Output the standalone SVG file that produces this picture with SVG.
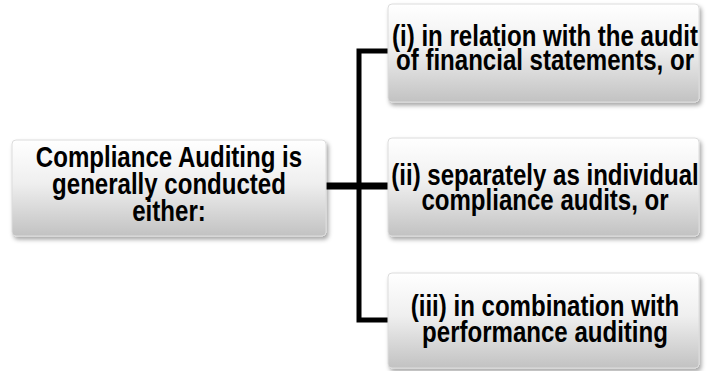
<svg xmlns="http://www.w3.org/2000/svg" width="708" height="371" viewBox="0 0 708 371">
<style>
.box{fill:url(#g);stroke:#dcdcdc;stroke-width:1;filter:url(#sh)}
.t{font-family:"Liberation Sans",Arial,sans-serif;font-weight:bold;font-size:29px;fill:#000;text-anchor:middle}
.c{fill:none;stroke:#000;stroke-linejoin:miter;stroke-linecap:butt}
</style>
<defs>
<linearGradient id="g" x1="0" y1="0" x2="0" y2="1">
<stop offset="0" stop-color="#ffffff"/>
<stop offset="0.45" stop-color="#efefef"/>
<stop offset="1" stop-color="#c2c2c2"/>
</linearGradient>
<filter id="sh" x="-5%" y="-10%" width="115%" height="125%">
<feDropShadow dx="2" dy="3" stdDeviation="2" flood-color="#000" flood-opacity="0.35"/>
</filter>
</defs>
<rect width="708" height="371" fill="#fff"/>
<g id="connectors">
<path class="c" stroke-width="5" d="M388,51 H359 V320 H388"/>
<path class="c" stroke-width="7" d="M326,186 H388"/>
</g>
<g id="n0">
<rect class="box" x="12" y="140" width="314" height="96" rx="4"/>
<g transform="translate(169,0) scale(0.83,1)">
<text class="t" x="0" y="167">Compliance Auditing is</text>
<text class="t" x="0" y="194">generally conducted</text>
<text class="t" x="0" y="221">either:</text>
</g>
</g>
<g id="n1">
<rect class="box" x="388" y="4" width="311" height="98" rx="4"/>
<g transform="translate(545,0) scale(0.83,1)">
<text class="t" x="0" y="46">(i) in relation with the audit</text>
<text class="t" x="0" y="70">of financial statements, or</text>
</g>
</g>
<g id="n2">
<rect class="box" x="388" y="138" width="311" height="98" rx="4"/>
<g transform="translate(545,0) scale(0.83,1)">
<text class="t" x="0" y="185">(ii) separately as individual</text>
<text class="t" x="0" y="210">compliance audits, or</text>
</g>
</g>
<g id="n3">
<rect class="box" x="388" y="273" width="311" height="95" rx="4"/>
<g transform="translate(545,0) scale(0.83,1)">
<text class="t" x="0" y="316">(iii) in combination with</text>
<text class="t" x="0" y="342">performance auditing</text>
</g>
</g>
</svg>
